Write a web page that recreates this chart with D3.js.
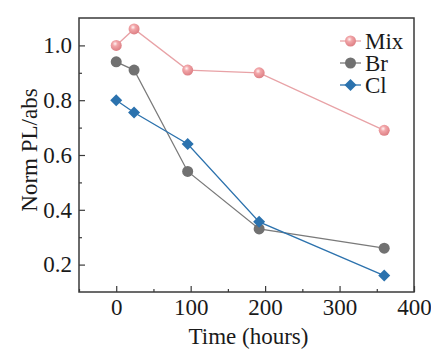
<!DOCTYPE html>
<html>
<head>
<meta charset="utf-8">
<script src="https://cdn.jsdelivr.net/npm/d3@7"></script>
<style>
  body { margin: 0; background: #fff; }
  text { font-family: "Liberation Serif", "Times New Roman", serif; }
</style>
</head>
<body>
<script>
// hours since start
var hours = [0, 24, 96, 192, 360];
var mixVals = [1.0, 1.06, 0.91, 0.90, 0.69];
var brVals = [0.94, 0.91, 0.54, 0.33, 0.26];
var clVals = [0.80, 0.755, 0.64, 0.356, 0.16];
var seriesNames = ["Mix", "Br", "Cl"];
var xTicks = [0, 100, 200, 300, 400];
var yTicks = [0.2, 0.4, 0.6, 0.8, 1.0];

var width = 431, height = 353;
var plotLeft = 79, plotRight = 414, plotTop = 18, plotBottom = 292;
var fontSize = "23px";

var svg = d3.select("body").append("svg")
    .attr("width", width)
    .attr("height", height);

var defs = svg.append("defs");
var grad = defs.append("radialGradient")
    .attr("id", "mixBall")
    .attr("cx", "0.4").attr("cy", "0.35").attr("r", "0.65");
grad.append("stop").attr("offset", "0").attr("stop-color", "#fff5f5");
grad.append("stop").attr("offset", "0.35").attr("stop-color", "#f2a6a9");
grad.append("stop").attr("offset", "1").attr("stop-color", "#dd7f84");

var x = d3.scaleLinear().domain([-50, 400]).range([plotLeft, plotRight]);
var y = d3.scaleLinear().domain([0.1, 1.1]).range([plotBottom, plotTop]);

var axisColor = "#3a3a3a";

// minor ticks
var xMinor = d3.range(-50, 401, 50).filter(function(d) { return d % 100 !== 0; });
var yMinor = [0.3, 0.5, 0.7, 0.9];

var xAxis = d3.axisBottom(x).tickValues(xTicks).tickSize(-6).tickPadding(7)
    .tickFormat(d3.format("d"));
var yAxis = d3.axisLeft(y).tickValues(yTicks).tickSize(-6).tickPadding(7)
    .tickFormat(d3.format(".1f"));

var gx = svg.append("g").attr("transform", "translate(0," + plotBottom + ")").call(xAxis);
var gy = svg.append("g").attr("transform", "translate(" + plotLeft + ",0)").call(yAxis);

svg.append("g").attr("transform", "translate(0," + plotBottom + ")")
    .call(d3.axisBottom(x).tickValues(xMinor).tickSize(-3).tickFormat(""));
svg.append("g").attr("transform", "translate(" + plotLeft + ",0)")
    .call(d3.axisLeft(y).tickValues(yMinor).tickSize(-3).tickFormat(""));

svg.selectAll(".domain").remove();
svg.selectAll(".tick line").attr("stroke", axisColor).attr("stroke-width", 1.2);
svg.selectAll(".tick text").attr("fill", "#1a1a1a").style("font-size", fontSize)
    .style("font-family", "'Liberation Serif', serif");

// frame
svg.append("rect")
    .attr("x", plotLeft).attr("y", plotTop)
    .attr("width", plotRight - plotLeft).attr("height", plotBottom - plotTop)
    .attr("fill", "none").attr("stroke", axisColor).attr("stroke-width", 1.5);

// axis titles
svg.append("text")
    .attr("x", (plotLeft + plotRight) / 2 + 2).attr("y", 344)
    .attr("text-anchor", "middle")
    .style("font-size", fontSize).attr("fill", "#1a1a1a")
    .text("Time (hours)");
svg.append("text")
    .attr("transform", "translate(37,150) rotate(-90)")
    .attr("text-anchor", "middle")
    .style("font-size", fontSize).attr("fill", "#1a1a1a")
    .text("Norm PL/abs");

var line = d3.line()
    .x(function(d) { return x(d[0]); })
    .y(function(d) { return y(d[1]); });

var series = [
  { name: "Mix", vals: mixVals, line: "#e8a2a6", fill: "url(#mixBall)", shape: "circle", r: 5.5 },
  { name: "Br", vals: brVals, line: "#7a7a7a", fill: "#717171", shape: "circle", r: 5.5 },
  { name: "Cl", vals: clVals, line: "#2c72ad", fill: "#2b72ae", shape: "diamond", r: 6 }
];

function drawMarker(g, s, cx, cy) {
  if (s.shape === "circle") {
    g.append("circle").attr("cx", cx).attr("cy", cy).attr("r", s.r)
      .attr("fill", s.fill);
  } else {
    g.append("path")
      .attr("d", "M" + cx + "," + (cy - s.r) + "L" + (cx + s.r) + "," + cy +
        "L" + cx + "," + (cy + s.r) + "L" + (cx - s.r) + "," + cy + "Z")
      .attr("fill", s.fill);
  }
}

series.forEach(function(s) {
  var pts = hours.map(function(h, i) { return [h, s.vals[i]]; });
  svg.append("path").datum(pts)
    .attr("d", line)
    .attr("fill", "none")
    .attr("stroke", s.line)
    .attr("stroke-width", 1.3);
  var g = svg.append("g");
  pts.forEach(function(p) { drawMarker(g, s, x(p[0]), y(p[1])); });
});

// legend
var legendY = [41, 63, 85];
series.forEach(function(s, i) {
  var ly = legendY[i];
  svg.append("line")
    .attr("x1", 340).attr("x2", 361)
    .attr("y1", ly).attr("y2", ly)
    .attr("stroke", s.line).attr("stroke-width", 1.3);
  drawMarker(svg, s, 350.5, ly);
  svg.append("text")
    .attr("x", 365).attr("y", ly + 8)
    .style("font-size", fontSize).attr("fill", "#1a1a1a")
    .text(seriesNames[i]);
});
</script>
</body>
</html>
